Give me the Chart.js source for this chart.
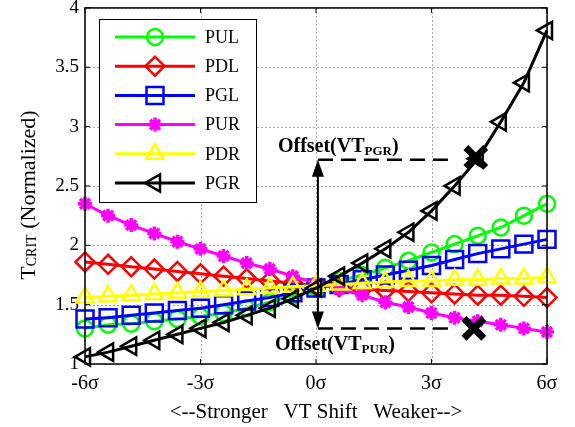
<!DOCTYPE html>
<html>
<head>
<meta charset="utf-8">
<script src="https://cdn.jsdelivr.net/npm/chart.js@4.4.1/dist/chart.umd.min.js"></script>
<style>
    html, body { margin: 0; padding: 0; background: #fff; }
    #wrap { width: 575px; height: 427px; }
</style>
</head>
<body>
<div id="wrap"><canvas id="tcrit-chart" width="575" height="427"></canvas></div>
<script>
const sigma = [-6, -5.4, -4.8, -4.2, -3.6, -3, -2.4, -1.8, -1.2, -0.6, 0, 0.6, 1.2, 1.8, 2.4, 3, 3.6, 4.2, 4.8, 5.4, 6];
const xTicks = [-6, -3, 0, 3, 6];
const yTicks = [1, 1.5, 2, 2.5, 3, 3.5, 4];

const pul = [1.30, 1.33, 1.34, 1.36, 1.38, 1.40, 1.43, 1.47, 1.52, 1.58, 1.64, 1.70, 1.75, 1.81, 1.87, 1.94, 2.01, 2.08, 2.15, 2.25, 2.35];
const pdl = [1.86, 1.84, 1.82, 1.80, 1.78, 1.76, 1.74, 1.72, 1.70, 1.68, 1.66, 1.65, 1.63, 1.62, 1.61, 1.60, 1.59, 1.58, 1.58, 1.57, 1.56];
const pgl = [1.38, 1.39, 1.41, 1.43, 1.45, 1.47, 1.50, 1.53, 1.56, 1.60, 1.64, 1.67, 1.71, 1.75, 1.79, 1.83, 1.88, 1.93, 1.97, 2.01, 2.05];
const pur = [2.35, 2.25, 2.17, 2.10, 2.03, 1.97, 1.91, 1.85, 1.80, 1.74, 1.68, 1.63, 1.58, 1.52, 1.48, 1.43, 1.39, 1.36, 1.33, 1.30, 1.27];
const pdr = [1.56, 1.57, 1.58, 1.59, 1.60, 1.61, 1.62, 1.63, 1.64, 1.65, 1.66, 1.67, 1.68, 1.69, 1.70, 1.70, 1.71, 1.71, 1.72, 1.72, 1.73];
const pgr = [1.06, 1.10, 1.15, 1.20, 1.25, 1.30, 1.35, 1.41, 1.47, 1.55, 1.64, 1.74, 1.85, 1.97, 2.11, 2.29, 2.50, 2.73, 3.04, 3.37, 3.81];

// offset annotations (in data units)
const offsetX = [0.05, 3.6];
const offsetPGR = 2.72;
const offsetPUR = 1.30;
const crossX = [4.15, 4.1];
const crossY = [2.74, 1.30];

const serif = "'Liberation Serif', 'Times New Roman', serif";

function pts(values) {
    return sigma.map(function (s, i) { return { x: s, y: values[i] }; });
}

function series(label, values, color, style, radius, rotation, width, order) {
    return {
        label: label,
        data: pts(values),
        borderColor: color,
        backgroundColor: "rgba(0,0,0,0)",
        borderWidth: 3,
        pointStyle: style,
        pointRadius: radius,
        pointRotation: rotation,
        pointBorderWidth: width,
        pointBorderColor: color,
        pointBackgroundColor: "rgba(0,0,0,0)",
        clip: false,
        order: order,
    };
}

const datasets = [
    series("PUL", pul, "#00ff00", "circle", 8, 0, 2.5, 5),
    series("PDL", pdl, "#ff0000", "rectRot", 9.5, 0, 2.5, 4),
    series("PGL", pgl, "#0000ff", "rect", 12, 0, 2.5, 3),
    series("PUR", pur, "#ff00ff", "star", 7, 0, 3.5, 2),
    series("PDR", pdr, "#ffff00", "triangle", 10, 0, 2.5, 1),
    series("PGR", pgr, "#000000", "triangle", 10, -90, 2.5, 0),
    {
        label: "dashPGR",
        data: offsetX.map(function (v) { return { x: v, y: offsetPGR }; }),
        borderColor: "#000",
        borderWidth: 2.5,
        borderDash: [15, 8],
        pointRadius: 0,
        order: -1,
    },
    {
        label: "dashPUR",
        data: offsetX.map(function (v) { return { x: v, y: offsetPUR }; }),
        borderColor: "#000",
        borderWidth: 2.5,
        borderDash: [15, 8],
        pointRadius: 0,
        order: -1,
    },
    {
        label: "cross",
        type: "scatter",
        data: crossX.map(function (v, i) { return { x: v, y: crossY[i] }; }),
        pointStyle: "crossRot",
        pointRadius: 14,
        pointBorderWidth: 7,
        pointBorderColor: "#000",
        pointBackgroundColor: "#000",
        order: -2,
    },
];

function drawSubText(ctx, x, y, parts) {
    // parts: [text, size, bold, sub]
    parts.forEach(function (p) {
        ctx.font = (p[2] ? "bold " : "") + p[1] + "px " + serif;
        ctx.fillText(p[0], x, y + (p[3] ? 3 : 0));
        x += ctx.measureText(p[0]).width;
    });
}

function partsWidth(ctx, parts) {
    var w = 0;
    parts.forEach(function (p) {
        ctx.font = (p[2] ? "bold " : "") + p[1] + "px " + serif;
        w += ctx.measureText(p[0]).width;
    });
    return w;
}

const decor = {
    id: "decor",
    beforeDatasetsDraw(chart) {
        // dotted grid
        const ctx = chart.ctx;
        const a = chart.chartArea;
        ctx.save();
        ctx.strokeStyle = "#a8a8a8";
        ctx.lineWidth = 1;
        ctx.setLineDash([2, 2]);
        ctx.beginPath();
        xTicks.forEach(function (v) {
            const px = Math.round(chart.scales.x.getPixelForValue(v)) + 0.5;
            ctx.moveTo(px, a.top); ctx.lineTo(px, a.bottom);
        });
        yTicks.forEach(function (v) {
            const py = Math.round(chart.scales.y.getPixelForValue(v)) + 0.5;
            ctx.moveTo(a.left, py); ctx.lineTo(a.right, py);
        });
        ctx.stroke();
        ctx.restore();
    },
    afterDatasetsDraw(chart) {
        const ctx = chart.ctx;
        const a = chart.chartArea;
        const x = chart.scales.x;
        const y = chart.scales.y;
        ctx.save();
        ctx.strokeStyle = "#000";
        ctx.lineWidth = 1.5;
        ctx.strokeRect(a.left, a.top, a.right - a.left, a.bottom - a.top);
        ctx.lineWidth = 1;
        ctx.beginPath();
        xTicks.forEach(function (v) {
            const px = x.getPixelForValue(v);
            ctx.moveTo(px, a.bottom); ctx.lineTo(px, a.bottom - 5);
            ctx.moveTo(px, a.top); ctx.lineTo(px, a.top + 5);
        });
        yTicks.forEach(function (v) {
            const py = y.getPixelForValue(v);
            ctx.moveTo(a.left, py); ctx.lineTo(a.left + 5, py);
            ctx.moveTo(a.right, py); ctx.lineTo(a.right - 5, py);
        });
        ctx.stroke();

        // double arrow between the two offsets
        const ax = x.getPixelForValue(offsetX[0]);
        const top = y.getPixelForValue(offsetPGR);
        const bot = y.getPixelForValue(offsetPUR);
        ctx.lineWidth = 2;
        ctx.beginPath();
        ctx.moveTo(ax, top + 10);
        ctx.lineTo(ax, bot - 10);
        ctx.stroke();
        ctx.fillStyle = "#000";
        ctx.beginPath();
        ctx.moveTo(ax, top); ctx.lineTo(ax - 6, top + 17); ctx.lineTo(ax + 6, top + 17); ctx.closePath();
        ctx.moveTo(ax, bot); ctx.lineTo(ax - 6, bot - 17); ctx.lineTo(ax + 6, bot - 17); ctx.closePath();
        ctx.fill();

        ctx.textBaseline = "alphabetic";
        ctx.textAlign = "left";
        drawSubText(ctx, ax - 40, top - 8, [["Offset(VT", 20, true], ["PGR", 13, true, true], [")", 20, true]]);
        drawSubText(ctx, ax - 43, bot + 22, [["Offset(VT", 20, true], ["PUR", 13, true, true], [")", 20, true]]);
        ctx.restore();
    },
    afterDraw(chart) {
        const ctx = chart.ctx;
        ctx.save();
        // legend box
        ctx.fillStyle = "#fff";
        ctx.fillRect(99, 19, 157, 183);
        ctx.strokeStyle = "#000";
        ctx.lineWidth = 1;
        ctx.strokeRect(99.5, 19.5, 157, 183);
        chart.data.datasets.slice(0, 6).forEach(function (ds, i) {
            const ly = 37 + i * 29.2;
            ctx.strokeStyle = ds.borderColor;
            ctx.lineWidth = 3;
            ctx.beginPath();
            ctx.moveTo(115, ly);
            ctx.lineTo(195, ly);
            ctx.stroke();
            ctx.lineWidth = ds.pointBorderWidth;
            ctx.fillStyle = "rgba(0,0,0,0)";
            Chart.helpers.drawPoint(ctx, {
                pointStyle: ds.pointStyle,
                rotation: ds.pointRotation,
                radius: ds.pointRadius,
                borderWidth: ds.pointBorderWidth,
            }, 155, ly);
            ctx.fillStyle = "#000";
            ctx.font = "18px " + serif;
            ctx.textBaseline = "middle";
            ctx.fillText(ds.label, 205, ly + 1);
        });

        // y axis title with subscript
        const parts = [["T", 22], ["CRIT", 14, false, true], [" (Normalized)", 22]];
        ctx.translate(29, 195);
        ctx.rotate(-Math.PI / 2);
        ctx.fillStyle = "#000";
        ctx.textBaseline = "middle";
        drawSubText(ctx, -partsWidth(ctx, parts) / 2, 0, parts);
        ctx.restore();
    },
};

const options = {
    responsive: false,
    animation: false,
    devicePixelRatio: 1,
    layout: {
        autoPadding: false,
        padding: { left: 0, right: 28, top: 5, bottom: 0 },
    },
    plugins: {
        legend: { display: false },
        tooltip: { enabled: false },
    },
    scales: {
        x: {
            type: "linear",
            min: -6,
            max: 6,
            afterBuildTicks: function (s) { s.ticks = xTicks.map(function (v) { return { value: v }; }); },
            afterFit: function (s) { s.height = 63; },
            ticks: {
                callback: function (v) { return v + "σ"; },
                color: "#000",
                font: { family: serif, size: 20 },
                padding: 8,
                maxRotation: 0,
            },
            grid: { display: false, drawTicks: false },
            border: { display: false },
            title: {
                display: true,
                text: "<--Stronger   VT Shift   Weaker-->",
                color: "#000",
                font: { family: serif, size: 21 },
                padding: { top: 0, bottom: 2 },
            },
        },
        y: {
            min: 1,
            max: 4,
            afterBuildTicks: function (s) { s.ticks = yTicks.map(function (v) { return { value: v }; }); },
            afterFit: function (s) { s.width = 85; },
            ticks: {
                callback: function (v) { return String(v); },
                color: "#000",
                font: { family: serif, size: 19, lineHeight: 0.2 },
                padding: 6,
            },
            grid: { display: false, drawTicks: false },
            border: { display: false },
        },
    },
};

const ctxTcrit = document.getElementById("tcrit-chart").getContext("2d");

new Chart(ctxTcrit, {
    type: "line",
    data: { datasets: datasets },
    options: options,
    plugins: [decor],
});
</script>
</body>
</html>
